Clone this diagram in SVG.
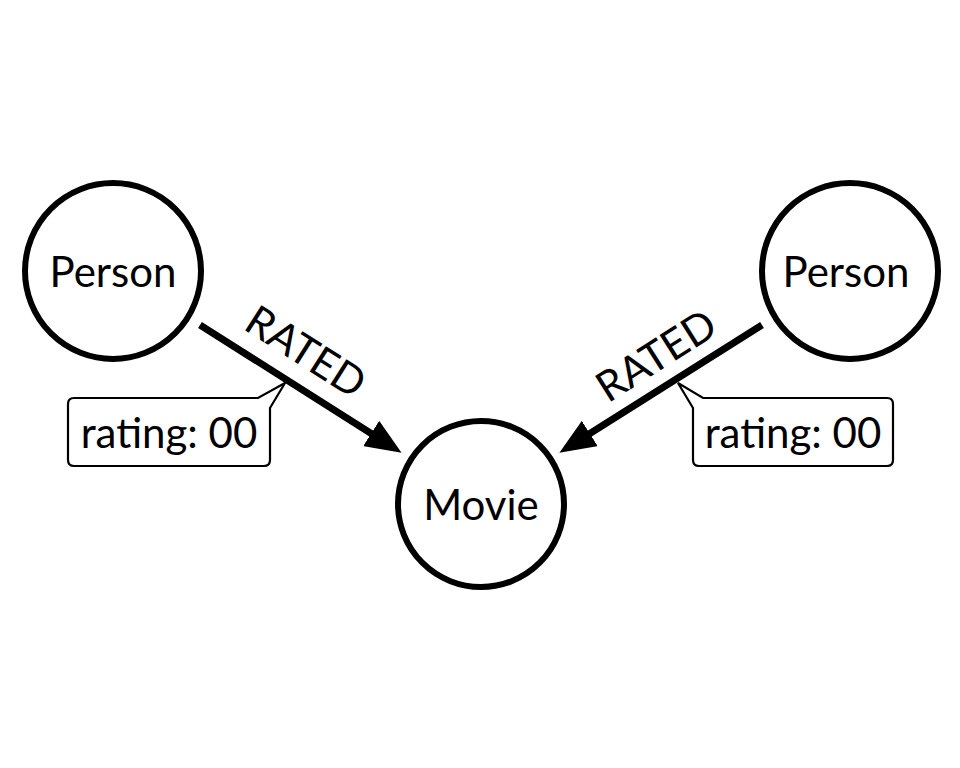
<svg xmlns="http://www.w3.org/2000/svg" width="960" height="768" viewBox="0 0 960 768">
<style>
.node{fill:#fff;stroke:#000;stroke-width:6}
.lbl{font-family:Lato,"Open Sans",sans-serif;font-size:42px;fill:#000;text-anchor:middle}
.rel{font-family:Lato,"Open Sans",sans-serif;font-size:42px;fill:#000;text-anchor:middle}
.edge{stroke:#000;stroke-width:7;fill:none}
.callout{fill:#fff;stroke:#000;stroke-width:2.2}
</style>
<defs>
<marker id="arr" markerUnits="userSpaceOnUse" markerWidth="36" markerHeight="30" viewBox="0 0 36 30" refX="14" refY="15" orient="auto">
<path d="M0,0 L36,15 L0,30 z" fill="#000"/>
</marker>
</defs>
<rect width="960" height="768" fill="#fff"/>
<g id="connectors">
<line class="edge" x1="200" y1="325" x2="383" y2="441" marker-end="url(#arr)"/>
<line class="edge" x1="762" y1="325" x2="578" y2="441" marker-end="url(#arr)"/>
<text class="rel" transform="translate(298,364) rotate(32.4)">RATED</text>
<text class="rel" transform="translate(664,368) rotate(-32.4)">RATED</text>
</g>
<g id="callout-left">
<path class="callout" d="M74,398 H258 L285,383 L270,408 V460 Q270,466 264,466 H74 Q68,466 68,460 V404 Q68,398 74,398 Z"/>
<text class="lbl" x="169" y="448" font-size="40">rating: 00</text>
</g>
<g id="callout-right">
<path class="callout" d="M703,398 H887 Q893,398 893,404 V460 Q893,466 887,466 H699 Q693,466 693,460 V408 L678,383 Z"/>
<text class="lbl" x="793" y="448" font-size="40">rating: 00</text>
</g>
<g id="person-left">
<circle class="node" cx="113" cy="271" r="88"/>
<text class="lbl" x="113" y="287">Person</text>
</g>
<g id="person-right">
<circle class="node" cx="850" cy="271" r="88"/>
<text class="lbl" x="846" y="287">Person</text>
</g>
<g id="movie">
<circle class="node" cx="481" cy="504" r="83"/>
<text class="lbl" x="481" y="520">Movie</text>
</g>
</svg>
